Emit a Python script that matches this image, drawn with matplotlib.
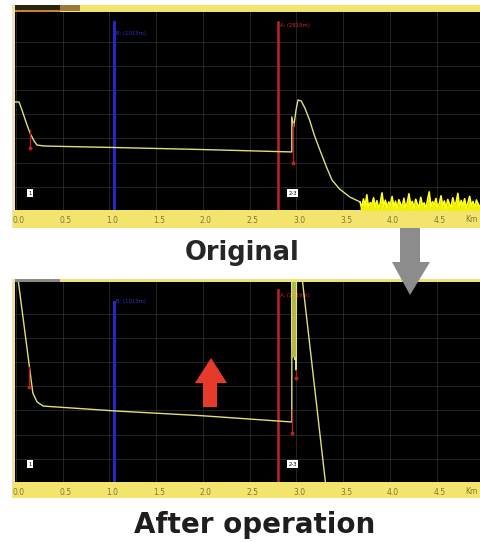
import numpy as np
import matplotlib
matplotlib.use("Agg")
import matplotlib.pyplot as plt
from matplotlib.patches import Rectangle, Polygon
import matplotlib.transforms as mtransforms

# ---------------- data ----------------
tick_km = [0.0, 0.5, 1.0, 1.5, 2.0, 2.5, 3.0, 3.5, 4.0, 4.5]
tick_labels = ["0.0", "0.5", "1.0", "1.5", "2.0", "2.5", "3.0", "3.5", "4.0", "4.5"]
grid_db = [0.94, 1.92, 2.92, 3.90, 4.88, 5.86, 6.86]

orig_x = [-0.01, 0.032, 0.064, 0.107, 0.15, 0.193, 0.225, 0.31, 1.06, 1.97, 2.95,
          2.95, 2.97, 2.995, 3.016, 3.05, 3.09, 3.14, 3.19, 3.25, 3.32, 3.38, 3.46, 3.57, 3.68]
orig_y = [4.41, 4.41, 4.08, 3.59, 3.14, 2.82, 2.65, 2.61, 2.55, 2.47, 2.37,
          3.80, 3.39, 4.08, 4.49, 4.45, 4.16, 3.67, 3.06, 2.45, 1.76, 1.22, 0.86, 0.53, 0.33]

noise_start, noise_end = 3.68, 4.96
noise_y = [0.32, 0.10, 0.45, 0.18, 0.62, 0.08, 0.30, 0.22, 0.50, 0.12, 0.38, 0.05,
           0.28, 0.70, 0.15, 0.40, 0.09, 0.33, 0.20, 0.55, 0.11, 0.36, 0.06, 0.42,
           0.25, 0.14, 0.48, 0.08, 0.31, 0.66, 0.19, 0.35, 0.07, 0.44, 0.23, 0.12,
           0.52, 0.17, 0.29, 0.05, 0.40, 0.74, 0.13, 0.34, 0.21, 0.47, 0.09, 0.27,
           0.58, 0.16, 0.37, 0.06, 0.43, 0.24, 0.11, 0.50, 0.20, 0.32, 0.68, 0.10,
           0.39, 0.15, 0.46, 0.08, 0.30, 0.56, 0.18, 0.35, 0.07, 0.41, 0.26, 0.13]

after_x = [0.016, 0.18, 0.225, 0.29, 1.06, 1.97, 2.95, 2.95, 2.96, 2.97, 2.98, 2.99,
           2.995, 3.0, 3.052, 3.315]
after_y = [8.45, 3.63, 3.27, 3.10, 2.90, 2.71, 2.45, 8.6, 5.1, 8.6, 5.0, 8.6,
           4.57, 8.6, 8.6, -0.2]

cursor_b_km = 1.05
cursor_a_km = 2.80
cursor_b_label = "B: (1015m)"
cursor_a_label = "A: (2819m)"

# event markers: (km, dB bottom, dB top)
orig_events = [(0.15, 2.53, 3.27), (2.96, 1.92, 3.55)]
after_events = [(0.14, 3.88, 4.69), (2.95, 2.00, 2.94), (3.00, 4.24, 4.57)]
event_boxes = [(0.15, "1"), (2.96, "2-3")]

W, H = 480, 542
fig = plt.figure(figsize=(4.8, 5.42), dpi=100)
fig.patch.set_facecolor("white")

def frac(x0, y0, x1, y1):
    return [x0 / W, 1 - y1 / H, (x1 - x0) / W, (y1 - y0) / H]

def band(x0, y0, x1, y1, color, z=-1):
    l, b, w, h = frac(x0, y0, x1, y1)
    fig.patches.append(Rectangle((l, b), w, h, transform=fig.transFigure,
                                 facecolor=color, edgecolor="none", zorder=z))

BAND = "#f2e46c"
# top panel frame
band(13, 5, 480, 12, BAND)
band(15, 5, 60, 10, "#2a2412")
band(15, 10, 60, 12, "#c8822a")
band(60, 5, 80, 11, "#9a7a3a")
band(12, 5, 15, 228, "#ece4b4")
band(13, 210, 480, 228, BAND)
# bottom panel frame
band(13, 279, 480, 282, "#efe27a")
band(15, 279, 60, 282, "#8a8a80")
band(12, 279, 15, 498, "#ece4a0")
band(13, 482, 480, 498, BAND)

XLIM = (-1 / 93.5, 464 / 93.5)
TRACE = "#e0e078"
LABEL_C = "#857630"

def setup(ax, ylim, height_px):
    ax.set_facecolor("black")
    ax.set_xlim(*XLIM)
    ax.set_ylim(*ylim)
    for s in ax.spines.values():
        s.set_visible(False)
    ax.set_xticks(tick_km)
    ax.set_xticklabels(tick_labels)
    ax.set_yticks(grid_db)
    ax.set_yticklabels([])
    ax.tick_params(axis="both", length=0)
    ax.tick_params(axis="x", pad=4.5, labelsize=5.5, labelcolor=LABEL_C)
    offset = mtransforms.ScaledTranslation(3 / 100, 0, fig.dpi_scale_trans)
    for lab in ax.get_xticklabels():
        lab.set_transform(lab.get_transform() + offset)
    ax.grid(True, color="#2a2a2a", linewidth=0.6)
    ax.set_axisbelow(True)
    ax.text(4.80, -9.5 / height_px, "Km", transform=ax.get_xaxis_transform(),
            fontsize=5.5, color=LABEL_C, ha="left", va="center", clip_on=False)

def cursors(ax, b_top, a_top, b_lab_y, a_lab_y):
    ax.plot([cursor_b_km, cursor_b_km], [0, b_top], color="#2626c8", lw=2.2, zorder=3)
    ax.plot([cursor_a_km, cursor_a_km], [0, a_top], color="#c02428", lw=1.8, zorder=3)
    ax.text(cursor_b_km + 0.02, b_lab_y, cursor_b_label, color="#3030d0", fontsize=3.8,
            va="center", ha="left")
    ax.text(cursor_a_km + 0.02, a_lab_y, cursor_a_label, color="#d02828", fontsize=3.8,
            va="center", ha="left")

def boxes(ax, y):
    for km, lab in event_boxes:
        ax.text(km, y, lab, fontsize=3.8, color="black", ha="center", va="center",
                bbox=dict(boxstyle="square,pad=0.25", facecolor="white", edgecolor="none"),
                zorder=6)

# ---------- top panel ----------
ax1 = fig.add_axes(frac(15, 12, 480, 210))
setup(ax1, (0, 198 / 24.5), 198)
cursors(ax1, 7.67, 7.67, 7.22, 7.55)
ax1.plot(orig_x, orig_y, color=TRACE, lw=1.0, zorder=4)
nx = np.linspace(noise_start, noise_end, len(noise_y))
ax1.fill_between(nx, 0, noise_y, color="#f0f000", lw=0, zorder=4)
ax1.plot(nx, noise_y, color="#ffff20", lw=1.2, zorder=4)
for km, y0, y1 in orig_events:
    ax1.plot([km, km], [y0, y1], color="#b02020", lw=1.0, zorder=5)
    ax1.plot([km], [y0], "o", color="#c02020", ms=1.8, zorder=5)
boxes(ax1, 0.69)

# ---------- bottom panel ----------
ax2 = fig.add_axes(frac(15, 282, 480, 482))
setup(ax2, (0, 200 / 24.5), 200)
cursors(ax2, 7.35, 7.84, 7.35, 7.63)
ax2.plot(after_x, after_y, color=TRACE, lw=1.0, zorder=4)
ax2.fill_betweenx([5.1, 8.6], 2.952, 2.99, color="#b8b840", lw=0, zorder=4)
for km, y0, y1 in after_events:
    ax2.plot([km, km], [y0, y1], color="#b02020", lw=1.0, zorder=5)
    ax2.plot([km], [y0], "o", color="#c02020", ms=1.8, zorder=5)
boxes(ax2, 0.73)

# ---------- overlay (arrows + captions) ----------
ov = fig.add_axes([0, 0, 1, 1], zorder=10)
ov.set_xlim(0, W)
ov.set_ylim(H, 0)
ov.axis("off")
ov.patch.set_alpha(0)
ov.add_patch(Polygon([(400, 228), (420, 228), (420, 262), (430, 262), (410, 295),
                      (392, 262), (400, 262)], closed=True, facecolor="#8c8c8c",
                     edgecolor="none"))
ov.add_patch(Polygon([(203, 407), (217, 407), (217, 383), (227, 383), (211, 358),
                      (195, 383), (203, 383)], closed=True, facecolor="#e63a2a",
                     edgecolor="none"))
ov.text(242, 253, "Original", fontsize=18.5, fontweight="bold", color="#262626",
        ha="center", va="center", family="DejaVu Sans")
ov.text(255, 525, "After operation", fontsize=20, fontweight="bold", color="#1e1e1e",
        ha="center", va="center", family="DejaVu Sans")

fig.savefig("out.png", dpi=100)
